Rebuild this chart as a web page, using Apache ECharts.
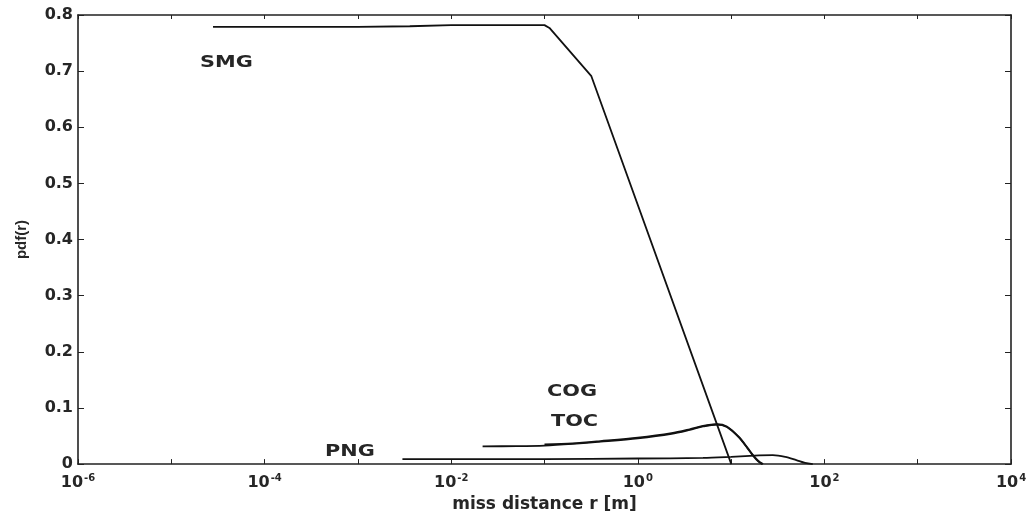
<!DOCTYPE html>
<html>
<head>
<meta charset="utf-8">
<script src="https://cdn.jsdelivr.net/npm/echarts@6/dist/echarts.min.js"></script>
<style>html,body{margin:0;padding:0;background:#fff}#c{width:1036px;height:518px}</style>
</head>
<body>
<div id="c"></div>
<script>
// miss distance r [m] and pdf(r) values
const smgR = [2.8e-5, 1e-3, 3.6e-3, 1e-2, 0.05, 0.1, 0.113, 0.318, 10.05];
const smgV = [0.779, 0.779, 0.780, 0.782, 0.782, 0.782, 0.777, 0.691, 0];
const tocR = [0.0217, 0.05, 0.1, 0.2, 0.4, 1, 2.3, 3.6, 5, 7, 9, 12.2, 15, 17, 19.5, 21.6];
const tocV = [0.0317, 0.032, 0.033, 0.036, 0.040, 0.046, 0.054, 0.061, 0.067, 0.0705, 0.066, 0.047, 0.028, 0.016, 0.005, 0];
const cogR = [0.1, 0.2, 0.4, 1, 2.3, 3.6, 5, 7, 9, 12.2, 15, 17, 19.5, 22];
const cogV = [0.035, 0.037, 0.041, 0.047, 0.055, 0.062, 0.068, 0.071, 0.067, 0.048, 0.029, 0.017, 0.006, 0];
const pngR = [0.003, 0.1, 1, 5, 10, 20, 28, 38, 50, 62, 75];
const pngV = [0.0088, 0.009, 0.010, 0.011, 0.013, 0.0155, 0.016, 0.013, 0.007, 0.002, 0];
const yTicks = [0, 0.1, 0.2, 0.3, 0.4, 0.5, 0.6, 0.7, 0.8];
const xExpMin = -6, xExpMax = 4;
const seriesNames = ['SMG', 'TOC', 'COG', 'PNG'];
const labels = [
  {text: 'SMG', left: 200, top: 55},
  {text: 'COG', left: 547, top: 384},
  {text: 'TOC', left: 551, top: 414},
  {text: 'PNG', left: 325, top: 444}
];

const zip = (a, b) => a.map((v, i) => [v, b[i]]);
const lineCol = '#111';
const axisCol = '#222';
const txtCol = '#262626';
const font = '"DejaVu Sans", sans-serif';

const chart = echarts.init(document.getElementById('c'), null, {renderer: 'canvas'});
const mkSeries = (name, r, v, smooth) => ({
  name, type: 'line', data: zip(r, v), showSymbol: false, symbol: 'none', smooth: smooth,
  lineStyle: {color: lineCol, width: 1.8}, xAxisIndex: 0, yAxisIndex: 0, animation: false
});

const xLabelFmt = v => {
  const e = Math.round(Math.log10(v));
  if (e % 2 !== 0) return '';
  return '{b|10}{s|' + e + '}';
};

chart.setOption({
  animation: false,
  backgroundColor: '#fff',
  grid: {left: 78, right: 25, top: 15, bottom: 49, containLabel: false},
  xAxis: [{
    type: 'log', logBase: 10, min: Math.pow(10, xExpMin), max: Math.pow(10, xExpMax), interval: 1,
    name: 'miss distance r [m]', nameLocation: 'middle', nameGap: 28,
    nameTextStyle: {fontFamily: font, fontSize: 17, fontWeight: 'bold', color: txtCol},
    axisLine: {show: true, onZero: false, lineStyle: {color: axisCol, width: 1.6}},
    axisTick: {show: true, inside: true, length: 5, lineStyle: {color: axisCol, width: 1}},
    minorTick: {show: false},
    splitLine: {show: false},
    axisLabel: {
      formatter: xLabelFmt, margin: 9, color: txtCol, fontFamily: font,
      rich: {
        b: {fontSize: 16, fontFamily: font, fontWeight: 'bold', color: txtCol, verticalAlign: 'bottom', lineHeight: 18},
        s: {fontSize: 10, fontFamily: font, fontWeight: 'bold', color: txtCol, verticalAlign: 'top', lineHeight: 10, padding: [0, 0, 0, 1]}
      }
    }
  }, {
    type: 'log', logBase: 10, min: Math.pow(10, xExpMin), max: Math.pow(10, xExpMax), interval: 1,
    position: 'top',
    axisLine: {show: true, onZero: false, lineStyle: {color: axisCol, width: 1.6}},
    axisTick: {show: true, inside: true, length: 4, lineStyle: {color: axisCol, width: 1}},
    axisLabel: {show: false}, splitLine: {show: false}
  }],
  yAxis: [{
    type: 'value', min: yTicks[0], max: yTicks[yTicks.length - 1], interval: 0.1,
    name: 'pdf(r)', nameLocation: 'middle', nameGap: 49, nameRotate: 90,
    nameTextStyle: {fontFamily: '"Liberation Sans", Arial, sans-serif', fontSize: 15, fontWeight: 'bold', color: txtCol},
    axisLine: {show: true, onZero: false, lineStyle: {color: axisCol, width: 1.6}},
    axisTick: {show: true, inside: true, length: 6, lineStyle: {color: axisCol, width: 1}},
    splitLine: {show: false},
    axisLabel: {
      formatter: v => (Math.abs(v) < 1e-9 ? '0' : v.toFixed(1)),
      margin: 5, fontSize: 16, fontFamily: font, fontWeight: 'bold', color: txtCol
    }
  }, {
    type: 'value', min: yTicks[0], max: yTicks[yTicks.length - 1], interval: 0.1,
    position: 'right',
    axisLine: {show: true, onZero: false, lineStyle: {color: axisCol, width: 1.6}},
    axisTick: {show: true, inside: true, length: 6, lineStyle: {color: axisCol, width: 1}},
    axisLabel: {show: false}, splitLine: {show: false}
  }],
  series: [
    mkSeries(seriesNames[0], smgR, smgV, false),
    mkSeries(seriesNames[1], tocR, tocV, 0.3),
    mkSeries(seriesNames[2], cogR, cogV, 0.3),
    mkSeries(seriesNames[3], pngR, pngV, 0.3)
  ],
  graphic: labels.map(l => ({
    type: 'text', left: l.left, top: l.top, scaleX: 1.3,
    style: {text: l.text, fontFamily: font, fontWeight: 'bold', fontSize: 16, fill: txtCol}
  }))
});
</script>
</body>
</html>
